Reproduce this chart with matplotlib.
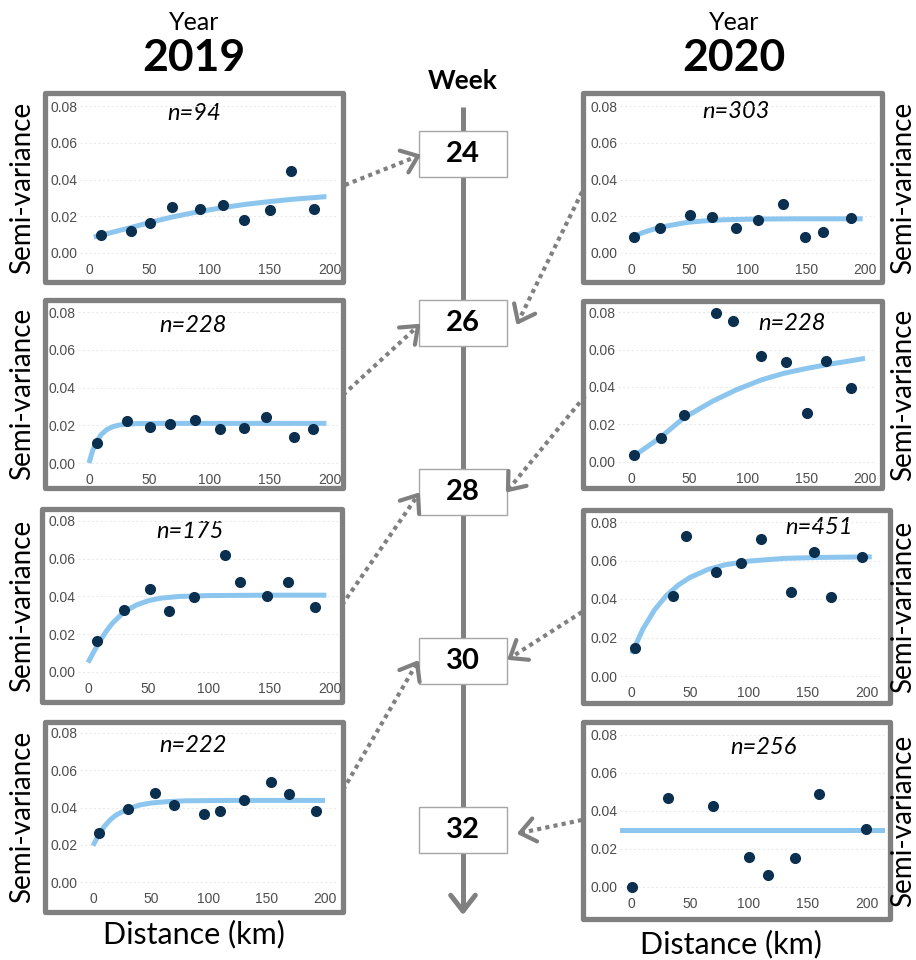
import matplotlib.pyplot as plt
from matplotlib.patches import Rectangle
import numpy as np

plt.rcParams['font.family'] = ['Lato', 'DejaVu Sans']

W, H = 916, 960
GREY = "#808080"
DOT = "#0b2f4f"
FIT = "#8cc6ee"

# ---- 2019 (left column) ----
dist19_w24 = [10, 35, 51, 69, 92, 111.5, 128.5, 150.5, 167.5, 186.5]
semi19_w24 = [0.0099, 0.0121, 0.0164, 0.0251, 0.0237, 0.0262, 0.0181, 0.0233, 0.0444, 0.0242]
fitx19_w24 = [4, 35, 51, 69, 92, 111, 129, 150, 170, 186, 197]
fity19_w24 = [0.0087, 0.0139, 0.0167, 0.0196, 0.0226, 0.0247, 0.0264, 0.0280, 0.0293, 0.0301, 0.0307]

dist19_w26 = [6.6, 31.3, 50.7, 67.6, 88.1, 109.1, 128.5, 146.5, 169.8, 185.9]
semi19_w26 = [0.0108, 0.0221, 0.0189, 0.0207, 0.0228, 0.0181, 0.0184, 0.0244, 0.0140, 0.0182]
fitx19_w26 = [0, 3, 6, 10, 15, 20, 25, 30, 40, 60, 100, 150, 197]
fity19_w26 = [0.0, 0.0065, 0.0110, 0.0150, 0.0178, 0.0193, 0.0201, 0.0205, 0.0209, 0.0210, 0.0210, 0.0210, 0.0210]

dist19_w28 = [7.7, 29.8, 51.6, 66.8, 87.7, 113.1, 125.5, 147.9, 165.2, 187.3]
semi19_w28 = [0.0162, 0.0327, 0.0438, 0.0323, 0.0399, 0.0620, 0.0479, 0.0403, 0.0479, 0.0343]
fitx19_w28 = [0, 5, 10, 15, 20, 30, 40, 50, 60, 75, 100, 150, 197]
fity19_w28 = [0.0050, 0.0110, 0.0165, 0.0215, 0.0257, 0.0320, 0.0355, 0.0378, 0.0391, 0.0400, 0.0405, 0.0407, 0.0407]

dist19_w30 = [4.9, 30.5, 53.2, 69.4, 95.5, 109.4, 129.8, 153.1, 168.6, 191.9]
semi19_w30 = [0.0261, 0.0392, 0.0476, 0.0415, 0.0363, 0.0379, 0.0440, 0.0539, 0.0471, 0.0379]
fitx19_w30 = [0, 5, 10, 15, 20, 30, 40, 50, 65, 80, 120, 160, 200]
fity19_w30 = [0.0195, 0.0254, 0.0300, 0.0335, 0.0360, 0.0392, 0.0413, 0.0424, 0.0432, 0.0436, 0.0438, 0.0438, 0.0438]

# ---- 2020 (right column) ----
dist20_w24 = [2.6, 25.1, 50.7, 68.9, 89.7, 108.8, 129.9, 148.7, 164.4, 188.0]
semi20_w24 = [0.0087, 0.0134, 0.0208, 0.0197, 0.0134, 0.0177, 0.0265, 0.0088, 0.0112, 0.0188]
fitx20_w24 = [2.6, 10, 20, 30, 40, 50, 65, 80, 100, 140, 198]
fity20_w24 = [0.0090, 0.0111, 0.0131, 0.0146, 0.0158, 0.0168, 0.0176, 0.0181, 0.0184, 0.0186, 0.0186]

dist20_w26 = [2.3, 25.9, 45.0, 72.9, 87.2, 111.4, 132.8, 150.4, 166.4, 188.0]
semi20_w26 = [0.0037, 0.0128, 0.0252, 0.0796, 0.0752, 0.0564, 0.0532, 0.0260, 0.0537, 0.0393]
fitx20_w26 = [2, 25, 45, 70, 90, 111, 130, 150, 170, 190, 200]
fity20_w26 = [0.0030, 0.0130, 0.0235, 0.0325, 0.0385, 0.0437, 0.0472, 0.0499, 0.0522, 0.0542, 0.0553]

dist20_w28 = [3.4, 35.6, 46.4, 71.9, 92.8, 110.3, 135.5, 154.7, 169.2, 196.0]
semi20_w28 = [0.0144, 0.0416, 0.0727, 0.0541, 0.0588, 0.0710, 0.0436, 0.0642, 0.0410, 0.0618]
fitx20_w28 = [0.6, 10, 20, 30, 40, 50, 65, 80, 100, 130, 160, 204]
fity20_w28 = [0.0115, 0.0243, 0.0344, 0.0418, 0.0472, 0.0512, 0.0553, 0.0578, 0.0597, 0.0611, 0.0616, 0.0619]

dist20_w30 = [0.8, 31.7, 69.9, 100.1, 115.7, 138.6, 159.0, 198.9]
semi20_w30 = [0.0000, 0.0471, 0.0427, 0.0156, 0.0061, 0.0152, 0.0490, 0.0305]
sill20_w30 = 0.0299

n19 = ["n=94", "n=228", "n=175", "n=222"]
n20 = ["n=303", "n=228", "n=451", "n=256"]
weeks = ["24", "26", "28", "30", "32"]
xticks = [0, 50, 100, 150, 200]
yticks = [0.00, 0.02, 0.04, 0.06, 0.08]

fig = plt.figure(figsize=(W / 100, H / 100), dpi=100)
over = fig.add_axes([0, 0, 1, 1], zorder=0)
over.set_xlim(0, W)
over.set_ylim(H, 0)
over.axis("off")


def add_panel(box, span, xmap, ymap, dist, semi, fitx, fity, label, lpos, hline=None):
    bx0, by0, bx1, by1 = box
    over.add_patch(Rectangle((bx0, by0), bx1 - bx0, by1 - by0, fill=False,
                             ec=GREY, lw=3.8, joinstyle="round", zorder=2))
    l, r = span
    px0, px200 = xmap
    py8, py0 = ymap
    xs = 200 / (px200 - px0)
    ys = 0.08 / (py0 - py8)
    top = py8 - 0.004 / ys
    bot = py0 + 0.004 / ys
    ax = fig.add_axes([l / W, 1 - bot / H, (r - l) / W, (bot - top) / H], zorder=1)
    ax.set_facecolor("none")
    ax.set_xlim((l - px0) * xs, (r - px0) * xs)
    ax.set_ylim(-0.004, 0.084)
    for s in ax.spines.values():
        s.set_visible(False)
    ax.set_xticks(xticks)
    ax.set_yticks(yticks)
    ax.set_yticklabels([f"{v:.2f}" for v in yticks])
    ax.tick_params(length=0, labelsize=10, labelcolor="#4d4d4d", pad=2)
    for t in ax.get_xticklabels() + ax.get_yticklabels():
        t.set_family("Liberation Sans")
    ax.grid(axis="y", color="#ebebeb", lw=0.8, ls=(0, (2, 2)))
    ax.set_axisbelow(True)
    if hline is not None:
        ax.axhline(hline, color=FIT, lw=3.6)
    else:
        ax.plot(fitx, fity, color=FIT, lw=3.6, solid_capstyle="butt")
    ax.plot(dist, semi, "o", color=DOT, ms=7, zorder=3)
    over.text(lpos[0], lpos[1], label, style="italic", fontsize=17,
              ha="center", va="center", zorder=3)


left_boxes = [(45, 93, 343, 282), (45, 300, 343, 488), (42, 509, 342, 702), (45, 722, 343, 912)]
left_spans = [(80, 338), (78, 338), (78, 338), (80, 338)]
left_xmap = [(89, 330), (89, 330), (88, 330), (93, 325)]
left_ymap = [(106, 253), (312, 463), (521, 672), (733, 882)]
left_lpos = [(194, 113), (193, 326), (190, 532), (193, 745)]
left_data = [(dist19_w24, semi19_w24, fitx19_w24, fity19_w24),
             (dist19_w26, semi19_w26, fitx19_w26, fity19_w26),
             (dist19_w28, semi19_w28, fitx19_w28, fity19_w28),
             (dist19_w30, semi19_w30, fitx19_w30, fity19_w30)]

right_boxes = [(583, 93, 882, 282), (583, 301, 882, 488), (583, 510, 890, 703), (583, 722, 890, 919)]
right_spans = [(620, 875), (618, 875), (620, 883), (620, 885)]
right_xmap = [(631, 865), (631, 865), (631, 867), (631, 867)]
right_ymap = [(106, 253), (312, 462), (522, 676), (735, 887)]
right_lpos = [(736, 112), (792, 323), (819, 528), (763, 748)]
right_data = [(dist20_w24, semi20_w24, fitx20_w24, fity20_w24),
              (dist20_w26, semi20_w26, fitx20_w26, fity20_w26),
              (dist20_w28, semi20_w28, fitx20_w28, fity20_w28),
              (dist20_w30, semi20_w30, None, None)]

for i in range(4):
    d, s, fx, fy = left_data[i]
    add_panel(left_boxes[i], left_spans[i], left_xmap[i], left_ymap[i], d, s, fx, fy,
              n19[i], left_lpos[i])
    b = left_boxes[i]
    over.text(22, (b[1] + b[3]) / 2, "Semi-variance", rotation=90, fontsize=20,
              ha="center", va="center")

for i in range(4):
    d, s, fx, fy = right_data[i]
    add_panel(right_boxes[i], right_spans[i], right_xmap[i], right_ymap[i], d, s, fx, fy,
              n20[i], right_lpos[i], hline=sill20_w30 if i == 3 else None)
    b = right_boxes[i]
    over.text(903, (b[1] + b[3]) / 2, "Semi-variance", rotation=90, fontsize=20,
              ha="center", va="center")

# headers
over.text(194, 22, "Year", fontsize=18, ha="center", va="center")
over.text(194, 58, "2019", fontsize=32, fontweight="bold", ha="center", va="center")
over.text(734, 22, "Year", fontsize=18, ha="center", va="center")
over.text(734, 58, "2020", fontsize=32, fontweight="bold", ha="center", va="center")
over.text(194, 934, "Distance (km)", fontsize=22, ha="center", va="center")
over.text(731, 944, "Distance (km)", fontsize=22, ha="center", va="center")


def chevron(tip, frm, length, lw):
    tx, ty = tip
    u = np.array([tx - frm[0], ty - frm[1]], dtype=float)
    u /= np.hypot(*u)
    for a in (np.radians(38), -np.radians(38)):
        rot = np.array([[np.cos(a), -np.sin(a)], [np.sin(a), np.cos(a)]])
        v = rot @ u
        over.plot([tx, tx - length * v[0]], [ty, ty - length * v[1]], color=GREY,
                  lw=lw, solid_capstyle="round", zorder=4)


# week timeline
cx = 463
over.plot([cx, cx], [107, 910], color=GREY, lw=3.6, solid_capstyle="butt", zorder=1)
chevron((cx, 911), (cx, 107), 20, 3.6)
over.text(cx, 81, "Week", fontsize=19, fontweight="bold", ha="center", va="center")
week_y = [154, 323, 492, 661, 830]
for wk, wy in zip(weeks, week_y):
    over.add_patch(Rectangle((419, wy - 23), 88, 46, fc="white", ec="#a6a6a6", lw=1, zorder=3))
    over.text(cx, wy, wk, fontsize=21, fontweight="bold", ha="center", va="center", zorder=4)

# dotted links from panels to weeks
links = [((345, 185), (418, 156)), ((343, 395), (418, 326)), ((342, 605), (418, 495)),
         ((343, 790), (417, 663)), ((582, 192), (518, 322)), ((585, 396), (508, 490)),
         ((582, 612), (510, 658)), ((582, 820), (520, 833))]
for (x0, y0), (x1, y1) in links:
    over.plot([x0, x1], [y0, y1], color=GREY, lw=3, ls=(0, (1, 1)),
              dash_capstyle="butt", zorder=4)
    chevron((x1, y1), (x0, y0), 19, 3)

fig.savefig("out.png", dpi=100)
